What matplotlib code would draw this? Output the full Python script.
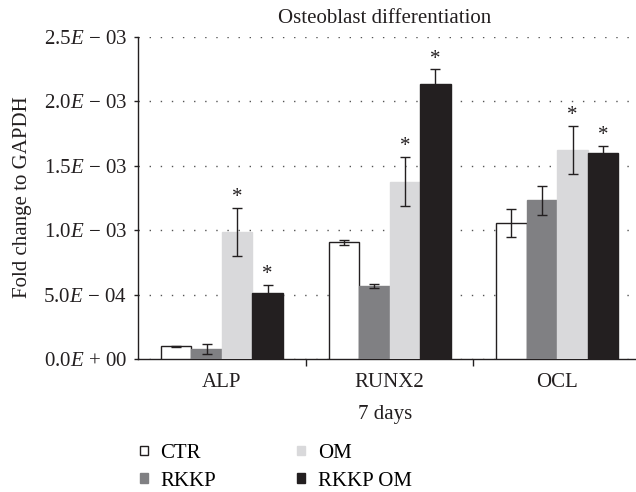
import matplotlib
matplotlib.use("Agg")
import matplotlib.pyplot as plt
import numpy as np
from matplotlib.patches import Patch

plt.rcParams["font.family"] = ["Liberation Serif", "DejaVu Serif"]
plt.rcParams["mathtext.fontset"] = "custom"
plt.rcParams["mathtext.rm"] = "Liberation Serif"
plt.rcParams["mathtext.it"] = "Liberation Serif:italic"

genes = ["ALP", "RUNX2", "OCL"]
groups = ["CTR", "RKKP", "OM", "RKKP OM"]
means = {
    "CTR":     [0.098e-3, 0.905e-3, 1.058e-3],
    "RKKP":    [0.076e-3, 0.566e-3, 1.232e-3],
    "OM":      [0.985e-3, 1.378e-3, 1.623e-3],
    "RKKP OM": [0.514e-3, 2.133e-3, 1.601e-3],
}
errors = {
    "CTR":     [0.006e-3, 0.020e-3, 0.110e-3],
    "RKKP":    [0.040e-3, 0.016e-3, 0.115e-3],
    "OM":      [0.188e-3, 0.190e-3, 0.188e-3],
    "RKKP OM": [0.060e-3, 0.115e-3, 0.052e-3],
}
significant = {
    "CTR":     [False, False, False],
    "RKKP":    [False, False, False],
    "OM":      [True, True, True],
    "RKKP OM": [True, True, True],
}
yticks = [0, 0.5e-3, 1.0e-3, 1.5e-3, 2.0e-3, 2.5e-3]
ytick_labels = ["0.0$E$ + 00", "5.0$E$ \u2212 04", "1.0$E$ \u2212 03",
                "1.5$E$ \u2212 03", "2.0$E$ \u2212 03", "2.5$E$ \u2212 03"]

face = {"CTR": "#ffffff", "RKKP": "#808083", "OM": "#d9d9db", "RKKP OM": "#231f20"}
edge = {"CTR": "#231f20", "RKKP": "#808083", "OM": "#d9d9db", "RKKP OM": "#231f20"}
ink = "#231f20"
fs = 15

fig = plt.figure(figsize=(6.36, 4.92), dpi=100)
ax = fig.add_axes([0.217, 0.2703, 0.791, 0.6545])

x = np.arange(len(genes))
width = 0.182
for i, g in enumerate(groups):
    pos = x + (i - 1.5) * width
    ax.bar(pos, means[g], width, color=face[g], edgecolor=edge[g], linewidth=1.0, zorder=3)
    ax.errorbar(pos, means[g], yerr=errors[g], fmt="none", ecolor=ink,
                elinewidth=1.0, capsize=3.5, capthick=1.0, zorder=4)
    for p, m, e, s in zip(pos, means[g], errors[g], significant[g]):
        if s:
            ax.text(p, m + e + 0.005e-3, "*", ha="center", va="bottom",
                    fontsize=15, color=ink)

ax.set_xlim(-0.5, 2.5)
ax.set_ylim(0, 2.5e-3)
ax.set_yticks(yticks)
ax.set_yticklabels(ytick_labels, fontsize=fs, color=ink)
ax.set_xticks([0.5, 1.5])
ax.set_xticklabels([])
ax.tick_params(axis="x", length=5, width=1, color=ink)
ax.tick_params(axis="y", length=3, width=1, color=ink, pad=5)
for i, gname in enumerate(genes):
    ax.text(i, -0.105e-3, gname, ha="center", va="top", fontsize=fs, color=ink)

ax.yaxis.grid(True, linestyle=(0, (1, 7)), color="#555555", linewidth=1.0, zorder=0)
ax.set_axisbelow(True)
for s in ["top", "right"]:
    ax.spines[s].set_visible(False)
for s in ["left", "bottom"]:
    ax.spines[s].set_color(ink)
    ax.spines[s].set_linewidth(1.0)

fig.text(0.035, 0.6, "Fold change to GAPDH", rotation=90, ha="center", va="center",
         fontsize=fs, color=ink)
fig.text(0.605, 0.158, "7 days", ha="center", va="center", fontsize=fs, color=ink)
fig.text(0.605, 0.963, "Osteoblast differentiation", ha="center", va="center",
         fontsize=fs, color=ink)

handles = [Patch(facecolor=face[g], edgecolor=edge[g], linewidth=1.0, label=g) for g in groups]
fig.legend(handles=handles, ncol=2, loc="upper left", bbox_to_anchor=(0.22, 0.098),
           frameon=False, fontsize=fs, handlelength=0.38, handleheight=0.3,
           handletextpad=0.6, columnspacing=3.9, labelspacing=0.42, borderaxespad=0,
           borderpad=0)

fig.savefig("out.png", dpi=100)
